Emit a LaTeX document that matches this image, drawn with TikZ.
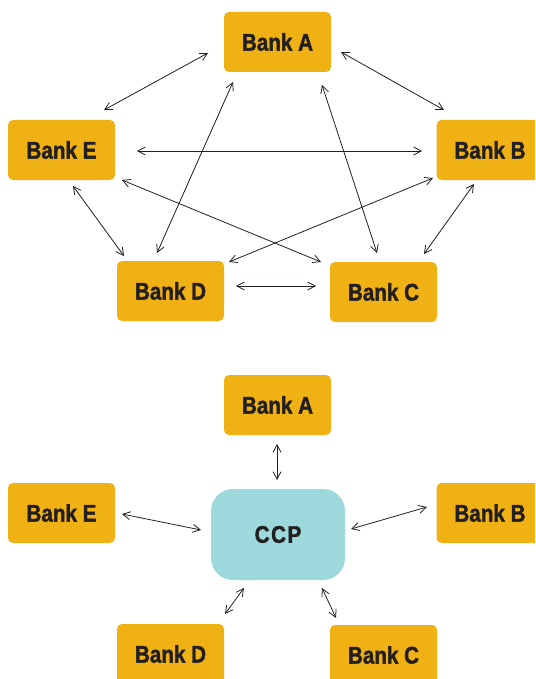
\documentclass[tikz,border=0pt]{standalone}
\usepackage{fontspec}
\setmainfont{Liberation Sans}[BoldFeatures={FakeStretch=0.86,FakeBold=1.6}]
\usetikzlibrary{arrows.meta}
\definecolor{bankorange}{HTML}{F0B114}
\definecolor{ccpteal}{HTML}{9DD8DC}
\definecolor{inkdark}{HTML}{231F20}
\tikzset{
  bank/.style={fill=bankorange, rounded corners=5pt, minimum width=107pt, minimum height=60pt,
    inner sep=0pt, text=inkdark, font=\fontsize{24}{26}\selectfont\bfseries},
  ccp/.style={fill=ccpteal, rounded corners=22pt, minimum width=134pt, minimum height=91pt,
    inner sep=0pt, text=inkdark, font=\fontsize{24}{26}\selectfont\bfseries},
  link/.style={draw=inkdark, line width=0.8pt, {Straight Barb[length=7.5pt,width=8pt]}-{Straight Barb[length=7.5pt,width=8pt]}}
}
\begin{document}
\begin{tikzpicture}[x=1pt,y=-1pt]
\clip (0,0) rectangle (535,679);
% top network
\node[bank] (A) at (277.5,42) {Bank A};
\node[bank] (E) at (61.5,150) {Bank E};
\node[bank] (B) at (490,150) {Bank B};
\node[bank] (D) at (170.5,291) {Bank D};
\node[bank] (C) at (383.5,292) {Bank C};
\draw[link] ([shift={(-69.5,11)}]A.center) -- ([shift={(42.5,-40)}]E.center);
\draw[link] ([shift={(63.5,10)}]A.center) -- ([shift={(-46,-40)}]B.center);
\draw[link] ([shift={(75.5,1)}]E.center) -- ([shift={(-68,1)}]B.center);
\draw[link] ([shift={(-44.5,40)}]A.center) -- ([shift={(-13.5,-38)}]D.center);
\draw[link] ([shift={(44.5,43)}]A.center) -- ([shift={(-6.5,-39)}]C.center);
\draw[link] ([shift={(11.5,36)}]E.center) -- ([shift={(-46.5,-35)}]D.center);
\draw[link] ([shift={(60.5,30)}]E.center) -- ([shift={(-62.5,-30)}]C.center);
\draw[link] ([shift={(-57,28)}]B.center) -- ([shift={(58.5,-29)}]D.center);
\draw[link] ([shift={(-16,34)}]B.center) -- ([shift={(40.5,-38)}]C.center);
\draw[link] ([shift={(65.5,-5)}]D.center) -- ([shift={(-67.5,-6)}]C.center);
% bottom network
\node[bank] (A2) at (277.5,405) {Bank A};
\node[bank] (E2) at (61.5,513) {Bank E};
\node[bank] (B2) at (490,513) {Bank B};
\node[ccp] (P) at (278,534.5) {C\kern1.5pt C\kern1.5pt P};
\node[bank] (D2) at (170.5,654) {Bank D};
\node[bank] (C2) at (383.5,655) {Bank C};
\draw[link] ([shift={(-0.5,39)}]A2.center) -- ([shift={(-1,-54.5)}]P.center);
\draw[link] ([shift={(60.5,1)}]E2.center) -- ([shift={(-77,-4.5)}]P.center);
\draw[link] ([shift={(-63,-6)}]B2.center) -- ([shift={(73,-5.5)}]P.center);
\draw[link] ([shift={(54.5,-40)}]D2.center) -- ([shift={(-34,53.5)}]P.center);
\draw[link] ([shift={(-47.5,-37)}]C2.center) -- ([shift={(44,53.5)}]P.center);
\end{tikzpicture}
\end{document}
